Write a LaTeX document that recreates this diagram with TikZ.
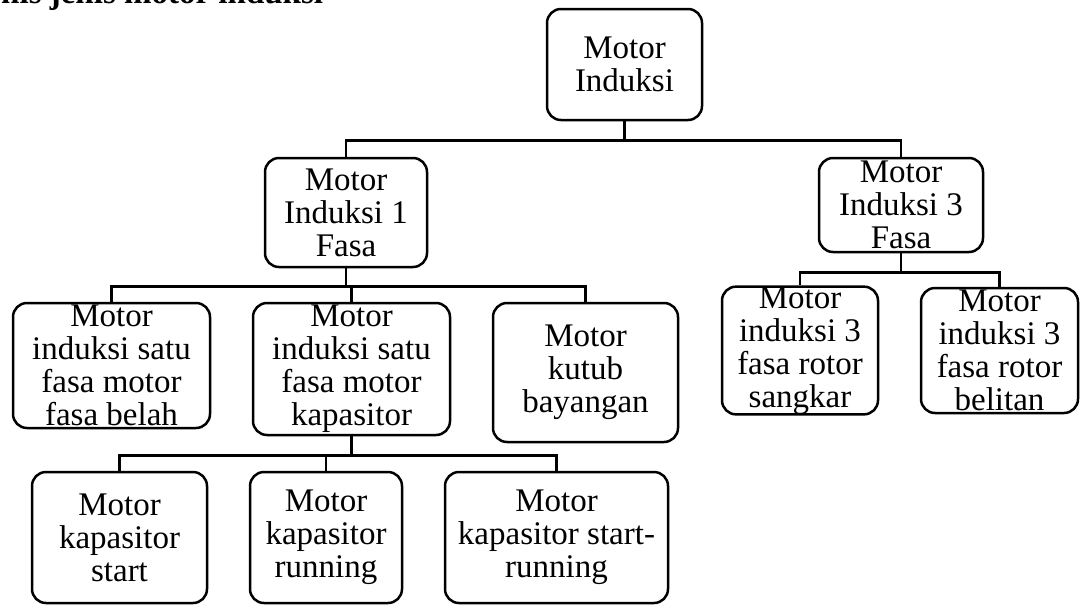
\documentclass[tikz,border=0pt]{standalone}
\usepackage{fontspec}
\setmainfont{Liberation Serif}
\begin{document}
\begin{tikzpicture}[x=1pt,y=-1pt,line width=2.5pt,
	kotak/.style={draw,rounded corners=14pt,align=center,inner sep=0pt,font=\fontsize{33}{33}\selectfont},
	judul/.style={anchor=base west,inner sep=0pt,font=\fontsize{33}{33}\selectfont\bfseries}]
	\useasboundingbox (0,0) rectangle (1086,605);
	\node[judul] (judul) at (0,3.5) {nis jenis motor induksi};
	\node[kotak,minimum width=155,minimum height=111] (induksi) at (624.5,64.5) {Motor\\Induksi};
	\node[kotak,minimum width=162,minimum height=109] (fasa1) at (346,212.5) {Motor\\Induksi 1\\Fasa};
	\node[kotak,minimum width=164,minimum height=94] (fasa3) at (901,205) {Motor\\Induksi 3\\Fasa};
	\node[kotak,minimum width=197,minimum height=125] (belah) at (111.5,365.5) {Motor\\induksi satu\\fasa motor\\fasa belah};
	\node[kotak,minimum width=197,minimum height=132] (kapasitor) at (351.5,369) {Motor\\induksi satu\\fasa motor\\kapasitor};
	\node[kotak,minimum width=185,minimum height=139] (kutub) at (585.5,372.5) {Motor\\kutub\\bayangan};
	\node[kotak,minimum width=156,minimum height=125] (sangkar) at (800,350.5) {Motor\\induksi 3\\fasa rotor\\sangkar};
	\node[kotak,minimum width=157,minimum height=125] (belitan) at (999.5,350.5) {Motor\\induksi 3\\fasa rotor\\belitan};
	\node[kotak,minimum width=175,minimum height=131] (kstart) at (119.5,537.5) {Motor\\kapasitor\\start};
	\node[kotak,minimum width=152,minimum height=131] (krun) at (326,537.5) {Motor\\kapasitor\\running};
	\node[kotak,minimum width=223,minimum height=131] (kstartrun) at (556.5,537.5) {Motor\\kapasitor start-\\running};
	\draw (induksi.south) --++(0,19) -| (fasa1.north);
	\draw (induksi.south) --++(0,19) -| (fasa3.north);
	\draw (fasa1.south) --++(0,18) -| (belah.north);
	\draw (fasa1.south) --++(0,18) -| (kapasitor.north);
	\draw (fasa1.south) --++(0,18) -| (kutub.north);
	\draw (fasa3.south) --++(0,19) -| (sangkar.north);
	\draw (fasa3.south) --++(0,19) -| (belitan.north);
	\draw (kapasitor.south) --++(0,19) -| (kstart.north);
	\draw (kapasitor.south) --++(0,19) -| (krun.north);
	\draw (kapasitor.south) --++(0,19) -| (kstartrun.north);
\end{tikzpicture}
\end{document}
